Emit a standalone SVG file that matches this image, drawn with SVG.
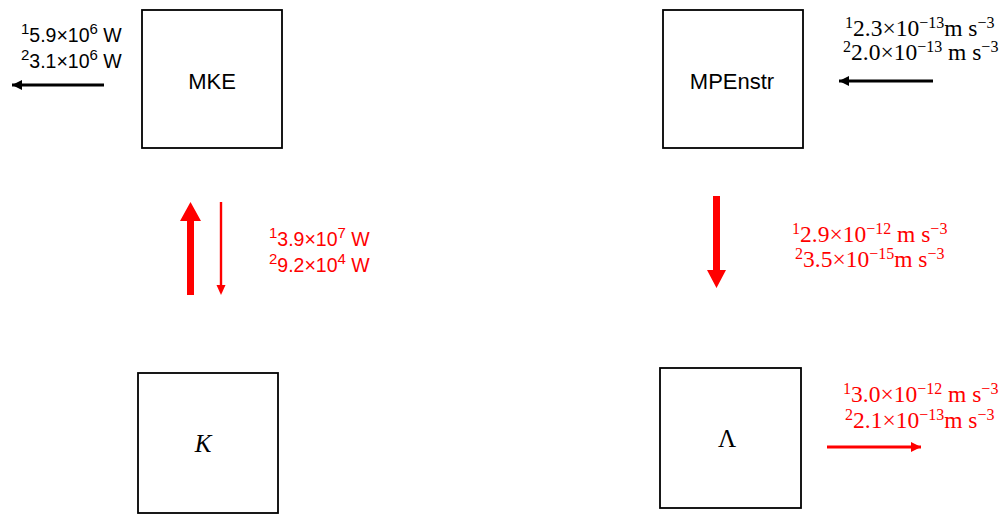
<svg xmlns="http://www.w3.org/2000/svg" width="1002" height="514" viewBox="0 0 1002 514">
  <style>
    .box { fill: #ffffff; stroke: #000000; stroke-width: 1.8; }
    .lbl { font-family: "Liberation Sans", Arial, sans-serif; font-size: 22px; fill: #000000; text-anchor: middle; }
    .sym { font-family: "Liberation Serif", "Times New Roman", serif; font-size: 25px; fill: #000000; text-anchor: middle; }
    .sans { font-family: "Liberation Sans", Arial, sans-serif; font-size: 19.5px; }
    .serif { font-family: "Liberation Serif", "Times New Roman", serif; font-size: 23.5px; }
    .sup { font-size: 15px; }
    .serif .sup { font-size: 16px; }
    .blk { fill: #000000; }
    .red { fill: #ff0000; }
    .line-k { stroke: #000000; stroke-width: 3; fill: none; }
    .line-r { stroke: #ff0000; stroke-width: 3; fill: none; }
  </style>
  <defs>
    <marker id="headK" markerUnits="userSpaceOnUse" markerWidth="12" markerHeight="12" refX="10" refY="5" orient="auto">
      <path d="M0,0 L10,5 L0,10 Z" fill="#000000"/>
    </marker>
    <marker id="headR" markerUnits="userSpaceOnUse" markerWidth="12" markerHeight="12" refX="10" refY="5" orient="auto">
      <path d="M0,0 L10,5 L0,10 Z" fill="#ff0000"/>
    </marker>
  </defs>

  <g id="node-mke">
    <rect class="box" x="142" y="10" width="140" height="138"/>
    <text class="lbl" x="212" y="89">MKE</text>
  </g>
  <g id="node-mpenstr">
    <rect class="box" x="663" y="10" width="140" height="138"/>
    <text class="lbl" x="732" y="89" font-size="23">MPEnstr</text>
  </g>
  <g id="node-k">
    <rect class="box" x="138" y="373" width="140" height="140"/>
    <text class="sym" x="203" y="452" font-style="italic">K</text>
  </g>
  <g id="node-lambda">
    <rect class="box" x="660" y="368" width="141" height="140"/>
    <text class="sym" x="727" y="447">Λ</text>
  </g>

  <g id="connectors">
    <!-- MKE outflow -->
    <line class="line-k" x1="104" y1="85" x2="12" y2="85" marker-end="url(#headK)"/>
    <!-- MPEnstr inflow -->
    <line class="line-k" x1="933" y1="81" x2="839" y2="81" marker-end="url(#headK)"/>
    <!-- K to MKE (thick up) -->
    <polygon class="red" points="187,295 194,295 194,221 201,221 190.5,202 180,221 187,221"/>
    <!-- MKE to K (thin down) -->
    <line x1="221" y1="202" x2="221" y2="286" stroke="#ff0000" stroke-width="2.4"/>
    <polygon class="red" points="216.5,285 225.5,285 221,295"/>
    <!-- MPEnstr to Lambda (thick down) -->
    <polygon class="red" points="713,196 720,196 720,270 726,270 716.5,288 707,270 713,270"/>
    <!-- Lambda outflow -->
    <line class="line-r" x1="827" y1="447" x2="921" y2="447" marker-end="url(#headR)"/>
  </g>

  <g id="labels">
    <text class="sans blk" x="21" y="42"><tspan class="sup" dy="-8">1</tspan><tspan dy="8">5.9×10</tspan><tspan class="sup" dy="-8">6</tspan><tspan dy="8"> W</tspan></text>
    <text class="sans blk" x="21" y="68"><tspan class="sup" dy="-8">2</tspan><tspan dy="8">3.1×10</tspan><tspan class="sup" dy="-8">6</tspan><tspan dy="8"> W</tspan></text>

    <text class="serif blk" x="845" y="36"><tspan class="sup" dy="-8">1</tspan><tspan dy="8">2.3×10</tspan><tspan class="sup" dy="-8">−13</tspan><tspan dy="8">m s</tspan><tspan class="sup" dy="-8">−3</tspan></text>
    <text class="serif blk" x="843" y="60"><tspan class="sup" dy="-8">2</tspan><tspan dy="8">2.0×10</tspan><tspan class="sup" dy="-8">−13</tspan><tspan dy="8"> m s</tspan><tspan class="sup" dy="-8">−3</tspan></text>

    <text class="sans red" x="269" y="246"><tspan class="sup" dy="-8">1</tspan><tspan dy="8">3.9×10</tspan><tspan class="sup" dy="-8">7</tspan><tspan dy="8"> W</tspan></text>
    <text class="sans red" x="269" y="272"><tspan class="sup" dy="-8">2</tspan><tspan dy="8">9.2×10</tspan><tspan class="sup" dy="-8">4</tspan><tspan dy="8"> W</tspan></text>

    <text class="serif red" x="792" y="242"><tspan class="sup" dy="-8">1</tspan><tspan dy="8">2.9×10</tspan><tspan class="sup" dy="-8">−12</tspan><tspan dy="8"> m s</tspan><tspan class="sup" dy="-8">−3</tspan></text>
    <text class="serif red" x="795" y="267"><tspan class="sup" dy="-8">2</tspan><tspan dy="8">3.5×10</tspan><tspan class="sup" dy="-8">−15</tspan><tspan dy="8">m s</tspan><tspan class="sup" dy="-8">−3</tspan></text>

    <text class="serif red" x="843" y="402"><tspan class="sup" dy="-8">1</tspan><tspan dy="8">3.0×10</tspan><tspan class="sup" dy="-8">−12</tspan><tspan dy="8"> m s</tspan><tspan class="sup" dy="-8">−3</tspan></text>
    <text class="serif red" x="845" y="428"><tspan class="sup" dy="-8">2</tspan><tspan dy="8">2.1×10</tspan><tspan class="sup" dy="-8">−13</tspan><tspan dy="8">m s</tspan><tspan class="sup" dy="-8">−3</tspan></text>
  </g>
</svg>
